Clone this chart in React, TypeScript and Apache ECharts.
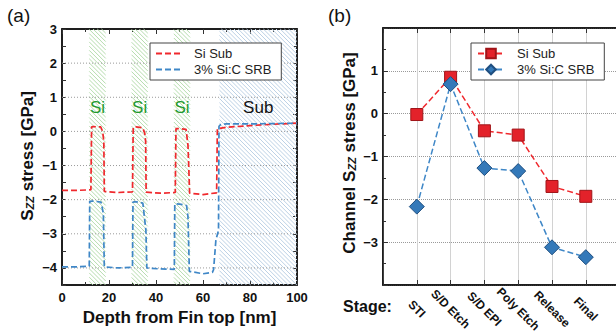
import React, { useEffect, useRef } from 'react';
import * as echarts from 'echarts';

// ---------- Panel (a): stress profile along fin depth ----------
const depthSiSub = [0, 6, 12.3, 12.6, 13.5, 16.5, 17.3, 17.8, 18.0, 24, 30.0, 30.3, 31.5, 34.3, 35.2, 35.6, 35.8, 42, 48.2, 48.5, 50, 52.8, 53.6, 53.9, 54.3, 60, 65.8, 66.1, 70, 80, 90, 100];
const stressSiSub = [-1.73, -1.73, -1.71, 0.13, 0.14, 0.13, 0.0, -0.3, -1.76, -1.79, -1.77, 0.12, 0.13, 0.11, -0.05, -0.3, -1.78, -1.81, -1.79, 0.08, 0.08, 0.06, -0.4, -0.95, -1.81, -1.85, -1.8, 0.08, 0.12, 0.17, 0.21, 0.24];
const depthSiC = [0, 6, 11.6, 11.8, 13, 16.6, 17.6, 18.0, 24, 30.0, 30.2, 31.5, 34.4, 35.7, 36.1, 42, 47.8, 48.0, 50, 53.0, 53.6, 54.2, 60, 64.0, 64.5, 65.5, 66.6, 66.8, 67.5, 70, 80, 90, 100];
const stressSiC = [-3.97, -3.97, -3.95, -2.05, -2.04, -2.07, -2.4, -3.97, -4.0, -3.98, -2.07, -2.06, -2.1, -2.9, -4.0, -4.03, -4.04, -2.12, -2.13, -2.17, -2.5, -4.1, -4.17, -4.13, -4.05, -3.17, -2.9, 0.15, 0.2, 0.22, 0.22, 0.23, 0.24];
const bandStart = [11.6, 29.6, 47.6, 67];
const bandEnd = [18.6, 36.5, 54.5, 100];
const bandLabel = ['Si', 'Si', 'Si', 'Sub'];
const bandKind = ['si', 'si', 'si', 'sub'];
const bandLabelY = 0.7;
const depthRangeA = [0, 100];
const yRangeA = [-4.5, 3];
const yTicksA = [-4, -3, -2, -1, 0, 1, 2, 3];
const yGridA = [-4, -3, -2, -1, 0, 1, 2];

// ---------- Panel (b): channel stress per process stage ----------
const stages = ['STI', 'S/D Etch', 'S/D EPI', 'Poly Etch', 'Release', 'Final'];
const channelSiSub = [-0.02, 0.85, -0.4, -0.5, -1.7, -1.93];
const channelSiC = [-2.17, 0.69, -1.27, -1.34, -3.12, -3.35];
const yRangeB = [-4, 2];

const seriesNames = ['Si Sub', '3% Si:C SRB'];

const FONT = '"Liberation Sans", Arial, Helvetica, sans-serif';
const RED = '#f0282d';
const BLUE = '#3f87c7';
const DASH_ICON = 'path://M0,0h6v2h-6z M9,0h6v2h-6z M18,0h6v2h-6z';

const fmtY = (v: number) => (Math.abs(v - Math.round(v)) < 1e-6 ? String(Math.round(v)).replace('-', '\u2212') : '');

export default function App() {
  const ref = useRef<HTMLDivElement>(null);
  useEffect(() => {
    if (!ref.current) return;
    const chart = echarts.init(ref.current, undefined, { renderer: 'svg' });

    const tickLabel = { color: '#111', fontFamily: FONT, fontWeight: 'bold' as const, fontSize: 13 };
    const axisLine = { show: true, onZero: false, lineStyle: { color: '#111', width: 1.5 } };
    const tickIn = { show: true, inside: true, length: 5, lineStyle: { color: '#333', width: 1 } };
    const tickInShort = { show: true, inside: true, length: 4, lineStyle: { color: '#333', width: 1 } };
    const minorIn = { show: true, splitNumber: 2, length: 3, lineStyle: { color: '#333', width: 1 } };
    const dotted = { show: true, lineStyle: { color: '#9a9a9a', type: 'dotted' as const, width: 1 } };

    const nameRich = {
      n: { fontFamily: FONT, fontWeight: 'bold', fontSize: 17, fill: '#111', color: '#111' },
      s: { fontFamily: FONT, fontWeight: 'bold', fontStyle: 'italic', fontSize: 11, fill: '#111', color: '#111', verticalAlign: 'bottom' },
    };

    const legendText = { fontFamily: FONT, fontSize: 13, color: '#222', padding: [0, 0, 0, 8] };

    const baseGraphic: any[] = [
      { id: 'ta', type: 'text', left: 7, top: 6, style: { text: '(a)', fontFamily: FONT, fontSize: 19, fill: '#111' } },
      { id: 'tb', type: 'text', left: 328, top: 6, style: { text: '(b)', fontFamily: FONT, fontSize: 19, fill: '#111' } },
      { id: 'stage', type: 'text', left: 343, top: 298, style: { text: 'Stage:', fontFamily: FONT, fontSize: 16, fontWeight: 'bold', fill: '#111' } },
      {
        id: 'nameA', type: 'text', x: 27, y: 156, rotation: Math.PI / 2,
        style: { text: '{n|S}{s|ZZ}{n| stress [GPa]}', rich: nameRich, align: 'center', verticalAlign: 'middle' },
      },
      {
        id: 'nameB', type: 'text', x: 349, y: 153, rotation: Math.PI / 2,
        style: { text: '{n|Channel S}{s|ZZ}{n| stress [GPa]}', rich: nameRich, align: 'center', verticalAlign: 'middle' },
      },
    ];

    const option: any = {
      animation: false,
      backgroundColor: '#fff',
      grid: [
        { left: 62, top: 29, width: 235, height: 256, show: true, borderColor: '#111', borderWidth: 1.5, backgroundColor: 'transparent', outerBoundsMode: 'none' },
        { left: 383, top: 28, width: 236.6, height: 257, show: true, borderColor: '#111', borderWidth: 1.5, backgroundColor: 'transparent', outerBoundsMode: 'none' },
      ],
      xAxis: [
        {
          gridIndex: 0, type: 'value', position: 'bottom', min: depthRangeA[0], max: depthRangeA[1], interval: 20,
          axisLine, axisTick: tickIn, minorTick: minorIn, splitLine: { show: false },
          axisLabel: { ...tickLabel, margin: 6 },
          name: 'Depth from Fin top [nm]', nameLocation: 'middle', nameGap: 24,
          nameTextStyle: { fontFamily: FONT, fontWeight: 'bold', fontSize: 17, color: '#111' },
        },
        {
          gridIndex: 0, type: 'value', position: 'top', min: depthRangeA[0], max: depthRangeA[1], interval: 20,
          axisLine, axisTick: tickIn, minorTick: minorIn, splitLine: { show: false }, axisLabel: { show: false },
        },
        {
          gridIndex: 1, type: 'value', position: 'bottom', min: 0, max: 7, interval: 1,
          axisLine, axisTick: tickIn,
          splitLine: { show: true, lineStyle: { color: '#d2d2d2', width: 1 } },
          axisLabel: {
            color: '#111', fontFamily: FONT, fontWeight: 'bold', fontSize: 12, rotate: -45, margin: 24,
            align: 'center', verticalAlign: 'middle',
            formatter: (v: number) => stages[Math.round(v) - 1] ?? '',
          },
        },
        {
          gridIndex: 1, type: 'value', position: 'top', min: 0, max: 7, interval: 1,
          axisLine, axisTick: tickIn, splitLine: { show: false }, axisLabel: { show: false },
        },
      ],
      yAxis: [
        {
          gridIndex: 0, type: 'value', position: 'left', min: yRangeA[0], max: yRangeA[1], interval: 0.5,
          axisLine, axisTick: tickInShort, splitLine: { show: false },
          axisLabel: { show: false },
        },
        {
          gridIndex: 0, type: 'value', position: 'right', min: yRangeA[0], max: yRangeA[1], interval: 0.5,
          axisLine, axisTick: tickInShort, splitLine: { show: false }, axisLabel: { show: false },
        },
        {
          gridIndex: 1, type: 'value', position: 'left', min: yRangeB[0], max: yRangeB[1], interval: 1,
          axisLine, axisTick: tickIn, minorTick: minorIn, splitLine: dotted,
          axisLabel: { ...tickLabel, margin: 5, formatter: (v: number) => (v === -4 || v === 2 ? '' : fmtY(v)) },
        },
      ],
      legend: [
        {
          left: 150, top: 43, orient: 'vertical', padding: [4, 10, 4, 6], itemGap: 3,
          borderColor: '#444', borderWidth: 1, backgroundColor: '#fff',
          itemWidth: 26, itemHeight: 2,
          data: seriesNames.map((n) => ({ name: n, icon: DASH_ICON })),
          textStyle: legendText,
        },
        {
          left: 471, top: 43, orient: 'vertical', padding: [4, 10, 4, 6], itemGap: 3,
          borderColor: '#444', borderWidth: 1, backgroundColor: '#fff',
          itemWidth: 26, itemHeight: 12,
          data: seriesNames.map((n) => 'b:' + n),
          formatter: (n: string) => n.replace(/^b:/, ''),
          textStyle: legendText,
        },
      ],
      graphic: baseGraphic,
      series: [
        {
          type: 'custom', xAxisIndex: 0, yAxisIndex: 0, silent: true, z: 1,
          dimensions: ['from', 'to'],
          encode: { x: ['from', 'to'] },
          data: bandStart.map((s, i) => [s, bandEnd[i]]),
          renderItem: (params: any, api: any) => {
            const cs = params.coordSys;
            const idx = params.dataIndex;
            const xa = api.coord([api.value(0), 0])[0];
            const xb = api.coord([api.value(1), 0])[0];
            const top = cs.y;
            const bot = cs.y + cs.height;
            const color = bandKind[idx] === 'si' ? '#b6ddae' : '#bcd1e5';
            const children: any[] = [];
            for (let c = top - xb; c <= bot - xa; c += 4.2) {
              const x1 = Math.max(xa, top - c);
              const x2 = Math.min(xb, bot - c);
              if (x2 > x1) {
                children.push({ type: 'line', shape: { x1, y1: x1 + c, x2, y2: x2 + c }, style: { stroke: color, lineWidth: 1 } });
              }
            }
            children.push({
              type: 'text',
              style: {
                text: bandLabel[idx],
                x: (xa + xb) / 2,
                y: api.coord([0, bandLabelY])[1],
                fill: bandKind[idx] === 'si' ? '#1f9a2f' : '#111',
                fontSize: 17, fontFamily: FONT,
                align: 'center', verticalAlign: 'middle',
              },
            });
            return { type: 'group', children };
          },
        },
        {
          name: seriesNames[0], type: 'line', xAxisIndex: 0, yAxisIndex: 0, z: 3,
          symbol: 'none', showSymbol: false,
          data: depthSiSub.map((d, i) => [d, stressSiSub[i]]),
          lineStyle: { color: RED, width: 1.7, type: [6, 3] },
          itemStyle: { color: RED },
        },
        {
          name: seriesNames[1], type: 'line', xAxisIndex: 0, yAxisIndex: 0, z: 3,
          symbol: 'none', showSymbol: false,
          data: depthSiC.map((d, i) => [d, stressSiC[i]]),
          lineStyle: { color: BLUE, width: 1.7, type: [6, 3] },
          itemStyle: { color: BLUE },
        },
        {
          name: 'b:' + seriesNames[0], type: 'line', xAxisIndex: 2, yAxisIndex: 2, z: 4,
          symbol: 'rect', symbolSize: 12,
          data: channelSiSub.map((v, i) => [i + 1, v]),
          lineStyle: { color: RED, width: 1.5, type: [6, 3] },
          itemStyle: { color: '#e3222a', borderColor: '#a01418', borderWidth: 1 },
        },
        {
          name: 'b:' + seriesNames[1], type: 'line', xAxisIndex: 2, yAxisIndex: 2, z: 4,
          symbol: 'diamond', symbolSize: 15,
          data: channelSiC.map((v, i) => [i + 1, v]),
          lineStyle: { color: BLUE, width: 1.5, type: [6, 3] },
          itemStyle: { color: '#3479b9', borderColor: '#1f4f80', borderWidth: 1 },
        },
      ],
    };

    chart.setOption(option);

    // (a) y tick labels and horizontal dotted grid, placed through the axis scale
    const xLeft = chart.convertToPixel({ xAxisIndex: 0 }, depthRangeA[0]) as number;
    const xRight = chart.convertToPixel({ xAxisIndex: 0 }, depthRangeA[1]) as number;
    const extra: any[] = [];
    yGridA.forEach((v, i) => {
      const py = chart.convertToPixel({ yAxisIndex: 0 }, v) as number;
      extra.push({
        id: 'gridA' + i, type: 'line', z: 2, silent: true,
        shape: { x1: xLeft, y1: py, x2: xRight, y2: py },
        style: { stroke: '#9a9a9a', lineWidth: 1, lineDash: [1, 2] },
      });
    });
    yTicksA.forEach((v, i) => {
      const py = chart.convertToPixel({ yAxisIndex: 0 }, v) as number;
      extra.push({
        id: 'labA' + i, type: 'text', z: 5, silent: true, x: xLeft - 5, y: py,
        style: { text: fmtY(v), fontFamily: FONT, fontWeight: 'bold', fontSize: 13, fill: '#111', align: 'right', verticalAlign: 'middle' },
      });
    });
    chart.setOption({ graphic: [...baseGraphic, ...extra] });

    return () => chart.dispose();
  }, []);

  return <div ref={ref} style={{ position: 'fixed', left: 0, top: 0, width: 616, height: 335 }} />;
}
